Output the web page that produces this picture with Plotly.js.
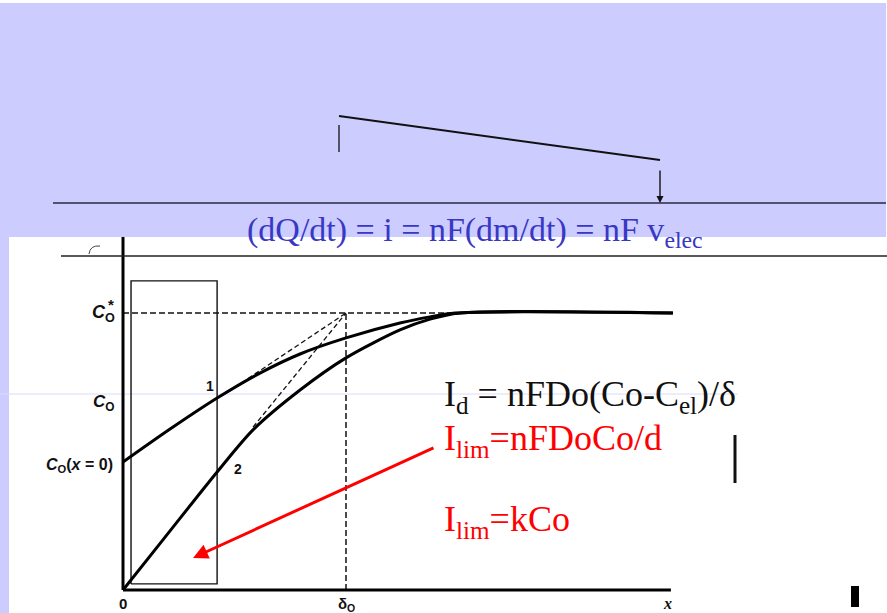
<!DOCTYPE html>
<html>
<head>
<meta charset="utf-8">
<script src="https://cdn.plot.ly/plotly-3.0.1.min.js"></script>
<style>html,body{margin:0;padding:0;background:#fff;}#chart{width:887px;height:613px;}</style>
</head>
<body>
<div id="chart"></div>
<script>
// ---- data (x in units of delta_O, y in units of C*_O) ----
const curve1X = [0, 0.211, 0.422, 0.614, 0.794, 1.0, 1.242, 1.377, 1.489, 2.466];
const curve1Y = [0.462, 0.581, 0.693, 0.783, 0.852, 0.910, 0.964, 0.986, 1.0, 1.0];
const curve2X = [0, 0.179, 0.422, 0.583, 0.794, 1.0, 1.242, 1.377, 1.511, 2.466];
const curve2Y = [0, 0.181, 0.426, 0.578, 0.722, 0.838, 0.939, 0.978, 1.0, 1.0];
const tangent1X = [0.471, 1.0];
const tangent1Y = [0.715, 1.0];
const tangent2X = [0.583, 1.0];
const tangent2Y = [0.588, 1.0];
const cStarX = [0, 1.489];
const cStarY = [1, 1];
const deltaX = [1, 1];
const deltaY = [0, 1];
const boxX = [0.036, 0.422, 0.422, 0.036, 0.036];
const boxY = [0.022, 0.022, 1.116, 1.116, 0.022];
const yAxisX = [0, 0];
const yAxisY = [0, 1.274];
const xAxisX = [0, 2.457];
const xAxisY = [0, 0];
const arrowFrom = [1.399, 0.516];
const arrowTo = [0.314, 0.116];
const curveLabels = ['1', '2'];
const curveLabelX = [0.39, 0.516];
const curveLabelY = [0.736, 0.437];

const W = 887, H = 613;
const px = v => v / W;
const py = v => 1 - v / H;

function line(x, y, opts) {
  return Object.assign({type: 'scatter', mode: 'lines', x: x, y: y, hoverinfo: 'skip', showlegend: false,
    line: {color: '#000', width: 1.2}}, opts);
}

const traces = [
  line(boxX, boxY, {line: {color: '#111', width: 1.4}}),
  line(cStarX, cStarY, {line: {color: '#111', width: 1.5, dash: '6px,3px'}}),
  line(deltaX, deltaY, {line: {color: '#111', width: 1.5, dash: '6px,3px'}}),
  line(tangent1X, tangent1Y, {line: {color: '#111', width: 1.3, dash: '5px,3px'}}),
  line(tangent2X, tangent2Y, {line: {color: '#111', width: 1.3, dash: '5px,3px'}}),
  line(curve1X, curve1Y, {line: {color: '#000', width: 3, shape: 'spline', smoothing: 0.8}}),
  line(curve2X, curve2Y, {line: {color: '#000', width: 3, shape: 'spline', smoothing: 0.8}}),
  line(yAxisX, yAxisY, {line: {color: '#000', width: 3}}),
  line(xAxisX, xAxisY, {line: {color: '#000', width: 3}})
];

const shapes = [
  {type: 'rect', xref: 'paper', yref: 'paper', x0: px(0), x1: px(886), y0: py(237), y1: py(3), fillcolor: '#ccccff', line: {width: 0}, layer: 'below'},
  {type: 'rect', xref: 'paper', yref: 'paper', x0: px(0), x1: px(9), y0: py(613), y1: py(237), fillcolor: '#ccccff', line: {width: 0}, layer: 'below'},
  {type: 'line', xref: 'paper', yref: 'paper', x0: px(53), x1: px(886), y0: py(203), y1: py(203), line: {color: '#2a2a40', width: 1.6}},
  {type: 'line', xref: 'paper', yref: 'paper', x0: px(61), x1: px(887), y0: py(256), y1: py(256), line: {color: '#222', width: 1.5}},
  {type: 'line', xref: 'paper', yref: 'paper', x0: px(339), x1: px(660), y0: py(116), y1: py(160), line: {color: '#111', width: 2}},
  {type: 'line', xref: 'paper', yref: 'paper', x0: px(339), x1: px(339), y0: py(125), y1: py(152), line: {color: '#111', width: 1.3}},
  {type: 'line', xref: 'paper', yref: 'paper', x0: px(0), x1: px(738), y0: py(394), y1: py(394), line: {color: '#dadaf8', width: 1}, layer: 'below'},
  {type: 'line', xref: 'paper', yref: 'paper', x0: px(735), x1: px(735), y0: py(435), y1: py(483), line: {color: '#111', width: 3}},
  {type: 'rect', xref: 'paper', yref: 'paper', x0: px(851), x1: px(859), y0: py(607), y1: py(586), fillcolor: '#000', line: {width: 0}},
  {type: 'path', xref: 'paper', yref: 'paper',
    path: 'M ' + px(89) + ' ' + py(254) + ' Q ' + px(90) + ' ' + py(245) + ' ' + px(100) + ' ' + py(246),
    line: {color: '#444', width: 1}}
];

const sans = 'Liberation Sans, Arial, sans-serif';
const serif = 'Liberation Serif, Times New Roman, serif';

const annotations = [
  // top arrow
  {xref: 'paper', yref: 'paper', x: px(660), y: py(203), ax: 0, ay: -34, text: '', showarrow: true,
    arrowhead: 2, arrowsize: 1, arrowwidth: 1.4, arrowcolor: '#111'},
  // red arrow
  {xref: 'x', yref: 'y', x: arrowTo[0], y: arrowTo[1], axref: 'x', ayref: 'y', ax: arrowFrom[0], ay: arrowFrom[1],
    text: '', showarrow: true, arrowhead: 2, arrowsize: 1, arrowwidth: 3, arrowcolor: '#ff0000'},
  // blue equation
  {xref: 'paper', yref: 'paper', x: px(245), y: py(232), xanchor: 'left', yanchor: 'middle', showarrow: false,
    text: '(dQ/dt) = i = nF(dm/dt) = nF v<sub>elec</sub>', font: {family: serif, size: 34, color: '#3838c4'}},
  // black equation
  {xref: 'paper', yref: 'paper', x: px(442), y: py(396), xanchor: 'left', yanchor: 'middle', showarrow: false,
    text: 'I<sub>d</sub> = nFDo(Co-C<sub>el</sub>)/δ', font: {family: serif, size: 36, color: '#111'}},
  // red equations
  {xref: 'paper', yref: 'paper', x: px(442), y: py(440), xanchor: 'left', yanchor: 'middle', showarrow: false,
    text: 'I<sub>lim</sub>=nFDoCo/d', font: {family: serif, size: 36, color: '#ff0000'}},
  {xref: 'paper', yref: 'paper', x: px(442), y: py(521), xanchor: 'left', yanchor: 'middle', showarrow: false,
    text: 'I<sub>lim</sub>=kCo', font: {family: serif, size: 36, color: '#ff0000'}},
  // axis labels
  {xref: 'x', yref: 'y', x: -0.025, y: 1.0, xanchor: 'right', yanchor: 'middle', showarrow: false,
    text: '<b><i>C</i><sub>O</sub></b>', font: {family: sans, size: 18, color: '#111'}},
  {xref: 'x', yref: 'y', x: -0.052, y: 1.03, xanchor: 'center', yanchor: 'middle', showarrow: false,
    text: '<b>*</b>', font: {family: sans, size: 15, color: '#111'}},
  {xref: 'x', yref: 'y', x: -0.027, y: 0.675, xanchor: 'right', yanchor: 'middle', showarrow: false,
    text: '<b><i>C</i><sub>O</sub></b>', font: {family: sans, size: 17, color: '#111'}},
  {xref: 'x', yref: 'y', x: -0.034, y: 0.448, xanchor: 'right', yanchor: 'middle', showarrow: false,
    text: '<b><i>C</i><sub>O</sub>(<i>x</i> = 0)</b>', font: {family: sans, size: 16, color: '#111'}},
  {xref: 'x', yref: 'y', x: 0, y: -0.047, xanchor: 'center', yanchor: 'middle', showarrow: false,
    text: '<b>0</b>', font: {family: sans, size: 15, color: '#111'}},
  {xref: 'x', yref: 'y', x: 1.0, y: -0.054, xanchor: 'center', yanchor: 'middle', showarrow: false,
    text: '<b>δ<sub>O</sub></b>', font: {family: sans, size: 15, color: '#111'}},
  {xref: 'x', yref: 'y', x: 2.44, y: -0.05, xanchor: 'center', yanchor: 'middle', showarrow: false,
    text: '<i><b>x</b></i>', font: {family: serif, size: 16, color: '#111'}}
];
curveLabels.forEach((t, i) => annotations.push({xref: 'x', yref: 'y', x: curveLabelX[i], y: curveLabelY[i],
  xanchor: 'center', yanchor: 'middle', showarrow: false, text: '<b>' + t + '</b>', font: {family: sans, size: 14, color: '#111'}}));

const layout = {
  width: W, height: H,
  margin: {l: 0, r: 0, t: 0, b: 0, pad: 0},
  paper_bgcolor: '#ffffff', plot_bgcolor: 'rgba(0,0,0,0)',
  xaxis: {range: [-0.5516, 3.4260], visible: false, fixedrange: true},
  yaxis: {range: [-0.0830, 2.1300], visible: false, fixedrange: true},
  showlegend: false,
  shapes: shapes,
  annotations: annotations
};

Plotly.newPlot('chart', traces, layout, {displayModeBar: false, staticPlot: true});
</script>
</body>
</html>
